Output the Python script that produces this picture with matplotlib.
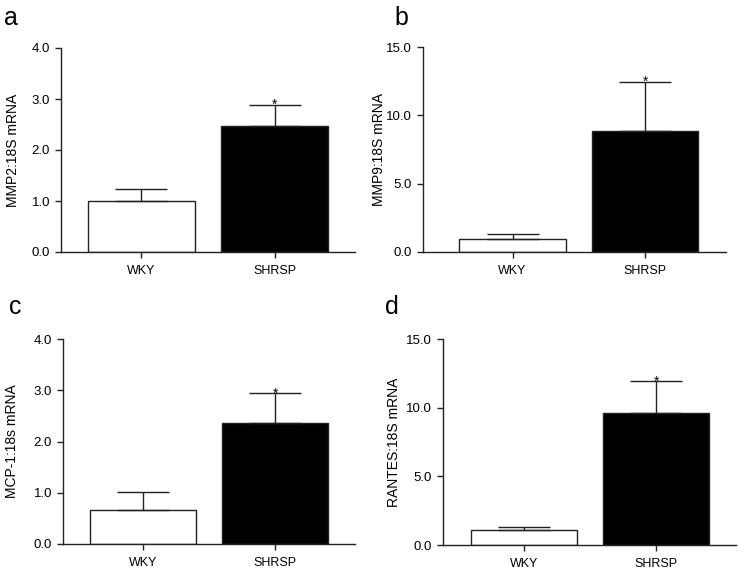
import matplotlib.pyplot as plt

plt.rcParams['font.family'] = ['Liberation Sans', 'DejaVu Sans']

# 資料：各組平均值與誤差（僅向上）
categories = ['WKY', 'SHRSP']

mmp2_vals = [1.00, 2.48]
mmp2_err = [0.23, 0.41]

mmp9_vals = [0.97, 8.85]
mmp9_err = [0.32, 3.60]

mcp1_vals = [0.66, 2.37]
mcp1_err = [0.35, 0.57]

rantes_vals = [1.09, 9.58]
rantes_err = [0.22, 2.33]

panel_letters = ['a', 'b', 'c', 'd']
y_labels = ['MMP2:18S mRNA', 'MMP9:18S mRNA', 'MCP-1:18s mRNA', 'RANTES:18S mRNA']
y_maxes = [4.0, 15.0, 4.0, 15.0]
y_steps = [1.0, 5.0, 1.0, 5.0]

W, H = 738, 573


def px_axes(fig, left, right, top, bottom):
    return fig.add_axes([left / W, 1 - bottom / H, (right - left) / W, (bottom - top) / H])


def draw_panel(ax, vals, errs, ymax, ystep, ylabel, xlim, label_x):
    x = list(range(len(categories)))
    ax.bar(x, vals, width=0.8, color=['white', 'black'], edgecolor='#222222',
           linewidth=1.0, zorder=2)
    ax.errorbar(x, vals, yerr=[[0] * len(errs), errs], fmt='none', ecolor='#222222',
                elinewidth=1.0, capsize=19, capthick=1.0, zorder=3)
    # 顯著性星號
    top = vals[1] + errs[1]
    ax.text(x[1], top, '*', ha='center', va='center', fontsize=10, zorder=4)

    ax.set_xlim(*xlim)
    ax.set_ylim(0, ymax)
    ticks = [i * ystep for i in range(int(round(ymax / ystep)) + 1)]
    ax.set_yticks(ticks)
    ax.set_yticklabels([f'{t:.1f}' for t in ticks])
    ax.set_xticks(x)
    ax.set_xticklabels(categories)
    ax.spines['top'].set_visible(False)
    ax.spines['right'].set_visible(False)
    for s in ('left', 'bottom'):
        ax.spines[s].set_linewidth(1.0)
        ax.spines[s].set_color('#222222')
    ax.tick_params(axis='y', length=4.3, width=1.0, color='#222222', labelsize=9.5, pad=3.6)
    ax.tick_params(axis='x', length=4.3, width=1.0, color='#222222', labelsize=9, pad=5)
    ax.set_ylabel(ylabel, fontsize=10)
    ax.yaxis.set_label_coords(label_x, 0.5)


fig = plt.figure(figsize=(W / 100, H / 100), dpi=100)

ax_a = px_axes(fig, 61, 355, 48, 252)
ax_b = px_axes(fig, 423, 726, 47, 252)
ax_c = px_axes(fig, 63, 355, 339, 544)
ax_d = px_axes(fig, 443, 736, 339, 545)

draw_panel(ax_a, mmp2_vals, mmp2_err, y_maxes[0], y_steps[0], y_labels[0], (-0.6, 1.6), -0.139)
draw_panel(ax_b, mmp9_vals, mmp9_err, y_maxes[1], y_steps[1], y_labels[1], (-0.675, 1.61), -0.122)
draw_panel(ax_c, mcp1_vals, mcp1_err, y_maxes[2], y_steps[2], y_labels[2], (-0.6, 1.6), -0.151)
draw_panel(ax_d, rantes_vals, rantes_err, y_maxes[3], y_steps[3], y_labels[3], (-0.61, 1.60), -0.143)

# 子圖字母
letter_pos = [(11, 18), (401, 18), (15, 307), (392, 307)]
for letter, (px, py) in zip(panel_letters, letter_pos):
    fig.text(px / W, 1 - py / H, letter, ha='center', va='center', fontsize=18)

fig.savefig('out.png', dpi=100)
